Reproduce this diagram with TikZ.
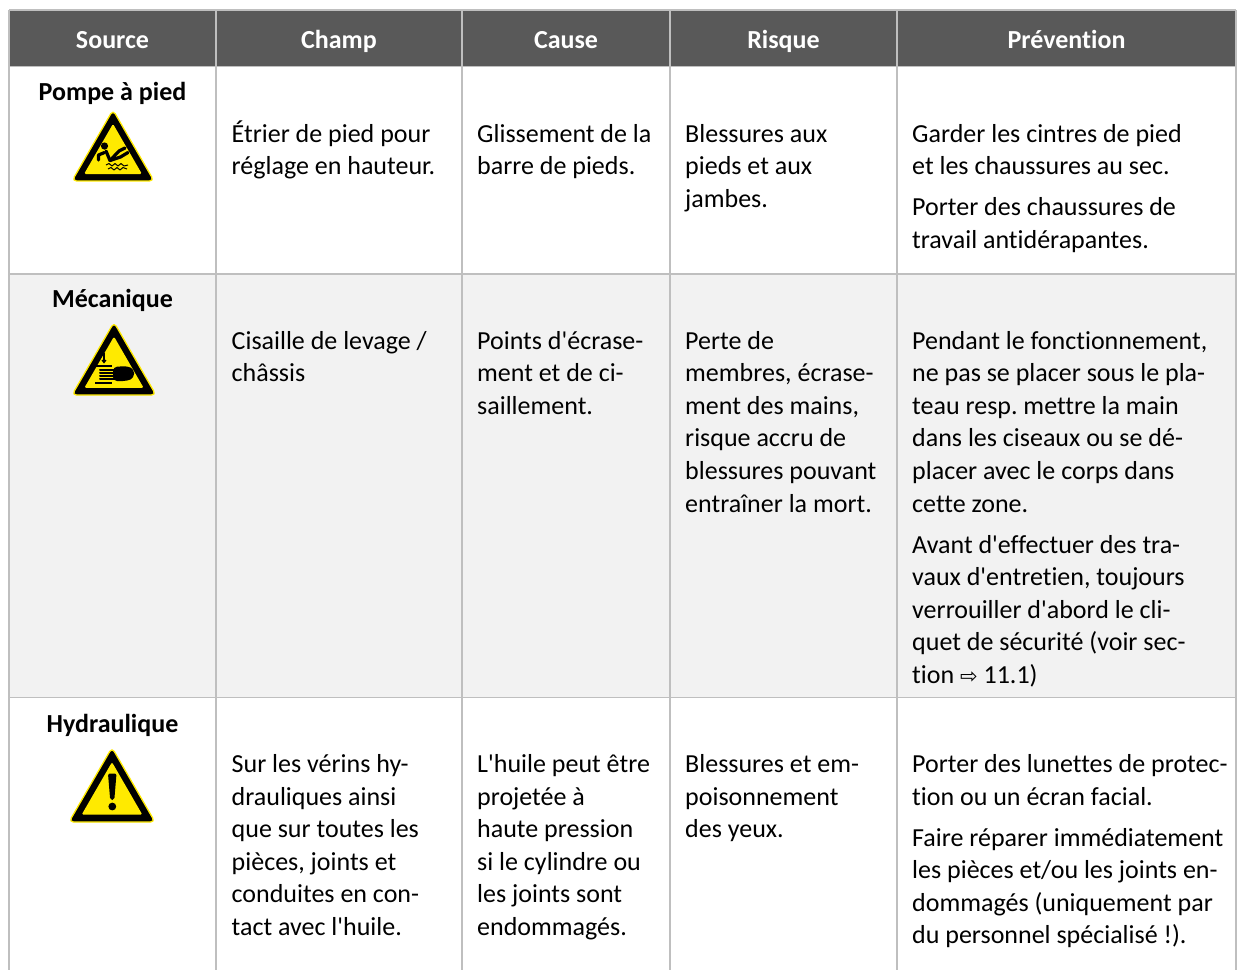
\documentclass[tikz,border=0pt]{standalone}
\usepackage{fontspec}
\setmainfont{Carlito}[RawFeature={-liga;-clig;-calt}]
\newfontfamily\symfont{DejaVu Sans}
\usetikzlibrary{arrows.meta}
\definecolor{hdr}{RGB}{89,89,89}
\definecolor{gridgray}{RGB}{191,191,191}
\definecolor{altrow}{RGB}{242,242,242}
\definecolor{signyellow}{RGB}{255,234,0}
\newcommand\celltext[1]{\parbox[t]{345pt}{\fontsize{26}{32.6}\selectfont\frenchspacing\setlength{\parskip}{8.4pt}\raggedright #1}}
\newcommand\ap{\textquotesingle}
\tikzset{
  warntri/.pic={
    \filldraw[fill=black, draw=signyellow, line width=1.3pt, line join=round, rounded corners=4.5pt]
      (0,-0.5774) -- (0.5,0.2887) -- (-0.5,0.2887) -- cycle;
    \fill[signyellow, rounded corners=1.5pt]
      (0,-0.4076) -- (0.353,0.2037) -- (-0.353,0.2037) -- cycle;
  }
}
\begin{document}
\begin{tikzpicture}[x=1pt,y=-1pt,
  gridline/.style={draw=gridgray, line width=1.7pt},
  hdrtext/.style={text=white, font=\fontsize{26}{32}\selectfont\bfseries, anchor=base, inner sep=0pt},
  srctext/.style={font=\fontsize{26}{32}\selectfont\bfseries, anchor=base, inner sep=0pt},
  body/.style={anchor=base west, inner sep=0pt},
  picto/.style={line width=3.2pt, line cap=round, line join=round}]

\useasboundingbox (0,0) rectangle (1237,970);

% fills
\fill[hdr] (9,10) rectangle (1236,66.5);
\fill[altrow] (9,274) rectangle (1236,697.5);

% grid
\foreach \gx in {9,216,462,670,897,1236}
  \draw[gridline] (\gx,10) -- (\gx,970);
\foreach \gy in {10,66.5,274,697.5}
  \draw[gridline] (9,\gy) -- (1236,\gy);

% header
\node[hdrtext] (h1) at (112.5,48) {Source};
\node[hdrtext] (h2) at (339,48) {Champ};
\node[hdrtext] (h3) at (566,48) {Cause};
\node[hdrtext] (h4) at (783.5,48) {Risque};
\node[hdrtext] (h5) at (1066.5,48) {Prévention};

% source labels
\node[srctext] (s1) at (112.5,100) {Pompe à pied};
\node[srctext] (s2) at (112.5,307) {Mécanique};
\node[srctext] (s3) at (112.5,732) {Hydraulique};

% sign 1 : slipping
\pic[scale=82] at (113,157.3) {warntri};
\fill (104.5,146) circle (3.6);
\draw[picto] (106,151) -- (110,160.5);
\draw[picto] (104.5,152.5) -- (98.5,155) -- (98.5,160);
\draw[picto] (110,160.5) -- (119,151) -- (125,148);
\draw[picto] (110,160.5) -- (120.5,157) -- (128,152.5);
\draw[line width=1pt, line join=round] (106,165) -- (109,163.5) -- (112,166) -- (115,163.5) -- (118,166) -- (121,163.5) -- (124,166) -- (128,165);
\draw[line width=1pt, line join=round] (108,169) -- (111,167.5) -- (114,170) -- (117,167.5) -- (120,170) -- (123,167.5) -- (127,169);

% sign 2 : hand crushing
\pic[scale=84] at (114,370.8) {warntri};
\draw[line width=1.2pt, -{Straight Barb[length=2.5pt,width=4pt]}] (104,352.5) -- (104,363.5);
\draw[line width=1.6pt] (95,366) -- (112,366);
\draw[line width=1.6pt] (95,383) -- (112,383);
\foreach \fy in {369.5,372.7,375.9,379.1}
  \draw[line width=2pt, line cap=round] (100,\fy) -- (117,\fy);
\fill[rounded corners=4pt] (113,367) -- (127,366) -- (134,369) -- (134,378) -- (127,381) -- (113,381) -- cycle;

% sign 3 : exclamation
\pic[scale=86] at (112,797.2) {warntri};
\fill[rounded corners=2pt] (108,773.5) -- (116.5,773.5) -- (114.3,800) -- (110.2,800) -- cycle;
\fill (112.3,806.5) circle (3.9);

% row 1
\node[body] (r1c2) at (231.5,142) {\celltext{Étrier de pied pour\\réglage en hauteur.}};
\node[body] (r1c3) at (477,142) {\celltext{Glissement de la\\barre de pieds.}};
\node[body] (r1c4) at (685,142) {\celltext{Blessures aux\\pieds et aux\\jambes.}};
\node[body] (r1c5) at (912,142) {\celltext{Garder les cintres de pied\\et les chaussures au sec.\par Porter des chaussures de\\travail antidérapantes.}};

% row 2
\node[body] (r2c2) at (231.5,349) {\celltext{Cisaille de levage /\\châssis}};
\node[body] (r2c3) at (477,349) {\celltext{Points d\ap écrase-\\ment et de ci-\\saillement.}};
\node[body] (r2c4) at (685,349) {\celltext{Perte de\\membres, écrase-\\ment des mains,\\risque accru de\\blessures pouvant\\entraîner la mort.}};
\node[body] (r2c5) at (912,349) {\celltext{Pendant le fonctionnement,\\ne pas se placer sous le pla-\\teau resp. mettre la main\\dans les ciseaux ou se dé-\\placer avec le corps dans\\cette zone.\par Avant d\ap effectuer des tra-\\vaux d\ap entretien, toujours\\verrouiller d\ap abord le cli-\\quet de sécurité (voir sec-\\tion {\symfont\fontsize{21}{24}\selectfont ⇨} 11.1)}};

% row 3
\node[body] (r3c2) at (231.5,772.5) {\celltext{Sur les vérins hy-\\drauliques ainsi\\que sur toutes les\\pièces, joints et\\conduites en con-\\tact avec l\ap huile.}};
\node[body] (r3c3) at (477,772.5) {\celltext{L\ap huile peut être\\projetée à\\haute pression\\si le cylindre ou\\les joints sont\\endommagés.}};
\node[body] (r3c4) at (685,772.5) {\celltext{Blessures et em-\\poisonnement\\des yeux.}};
\node[body] (r3c5) at (912,772.5) {\celltext{Porter des lunettes de protec-\\tion ou un écran facial.\par Faire réparer immédiatement\\les pièces et/ou les joints en-\\dommagés (uniquement par\\du personnel spécialisé !).}};

\end{tikzpicture}
\end{document}
